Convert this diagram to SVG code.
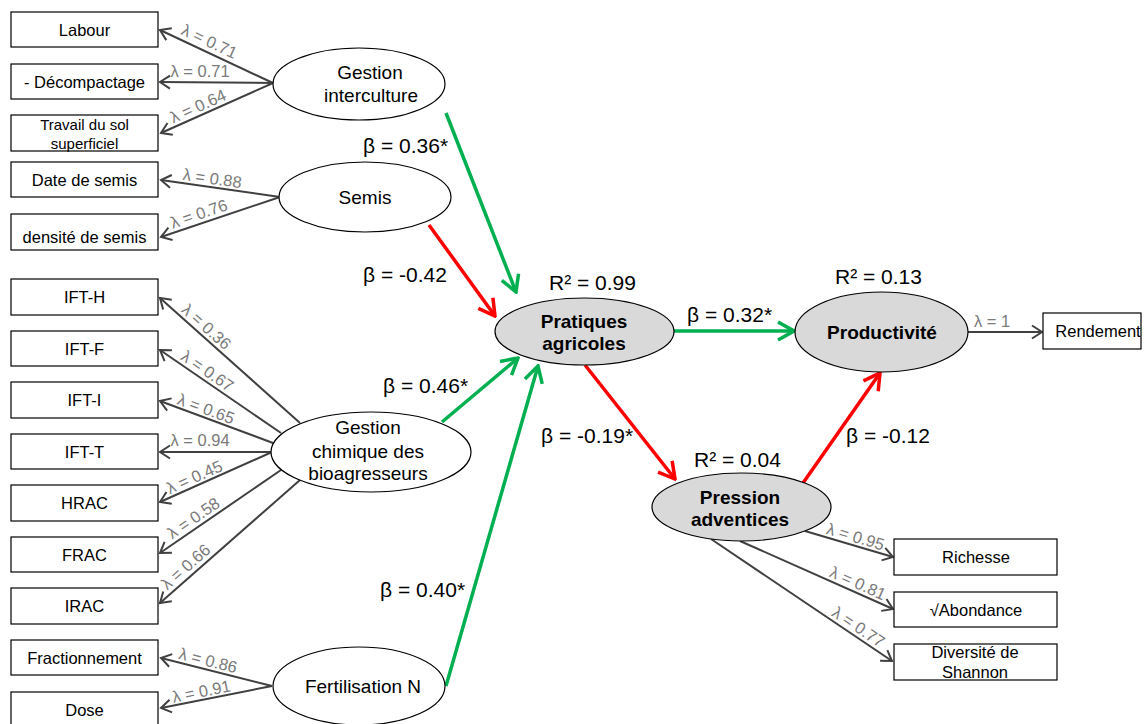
<svg xmlns="http://www.w3.org/2000/svg" width="1144" height="724" viewBox="0 0 1144 724">
<style>
.box{fill:#fff;stroke:#000;stroke-width:1.2}
.lat{fill:#fff;stroke:#000;stroke-width:1.2}
.dep{fill:#d9d9d9;stroke:#000;stroke-width:1.2}
.bt{font-family:"Liberation Sans",Arial,sans-serif;font-size:16.5px;fill:#000;text-anchor:middle}
.st{font-family:"Liberation Sans",Arial,sans-serif;font-size:15px;fill:#000;text-anchor:middle}
.et{font-family:"Liberation Sans",Arial,sans-serif;font-size:19px;fill:#000;text-anchor:middle}
.eb{font-family:"Liberation Sans",Arial,sans-serif;font-size:19px;font-weight:bold;fill:#000;text-anchor:middle}
.ld{stroke:#404040;stroke-width:2;fill:none;marker-end:url(#ga)}
.pg{stroke:#00b050;stroke-width:3.5;fill:none;marker-end:url(#gr)}
.pr{stroke:#ff0000;stroke-width:3.5;fill:none;marker-end:url(#rd)}
.lam{font-family:"Liberation Sans",Arial,sans-serif;font-size:16.5px;fill:#7a7a7a;text-anchor:middle}
.beta{font-family:"Liberation Sans",Arial,sans-serif;font-size:21px;fill:#000}
</style>
<defs>
<marker id="ga" markerUnits="userSpaceOnUse" viewBox="-13 -9 15 18" refX="0" refY="0" markerWidth="15" markerHeight="18" orient="auto"><path d="M-10,-6.5 L0,0 L-10,6.5" fill="none" stroke="#404040" stroke-width="2"/></marker>
<marker id="gr" markerUnits="userSpaceOnUse" viewBox="-20 -12 22 24" refX="0" refY="0" markerWidth="22" markerHeight="24" orient="auto"><path d="M-16,-9 L0,0 L-16,9" fill="none" stroke="#00b050" stroke-width="3.5"/></marker>
<marker id="rd" markerUnits="userSpaceOnUse" viewBox="-20 -12 22 24" refX="0" refY="0" markerWidth="22" markerHeight="24" orient="auto"><path d="M-16,-9 L0,0 L-16,9" fill="none" stroke="#ff0000" stroke-width="3.5"/></marker>
</defs>
<rect width="1144" height="724" fill="#fff"/>
<g id="connectors">
<line class="ld" x1="273" y1="83" x2="160" y2="30"/>
<line class="ld" x1="273" y1="83" x2="160" y2="82"/>
<line class="ld" x1="273" y1="83" x2="161" y2="133"/>
<line class="ld" x1="280" y1="197" x2="161" y2="180"/>
<line class="ld" x1="280" y1="197" x2="161" y2="237"/>
<line class="ld" x1="300" y1="423" x2="160" y2="298"/>
<line class="ld" x1="281" y1="433" x2="160" y2="350"/>
<line class="ld" x1="273" y1="443" x2="160" y2="401"/>
<line class="ld" x1="272" y1="452" x2="160" y2="452"/>
<line class="ld" x1="272" y1="452" x2="160" y2="502"/>
<line class="ld" x1="281" y1="470" x2="160" y2="553"/>
<line class="ld" x1="300" y1="480" x2="160" y2="603"/>
<line class="ld" x1="272" y1="686" x2="161" y2="658"/>
<line class="ld" x1="272" y1="686" x2="161" y2="708"/>
<line class="ld" x1="968" y1="332" x2="1042" y2="332"/>
<line class="ld" x1="805" y1="531" x2="893" y2="557"/>
<line class="ld" x1="740" y1="541" x2="893" y2="609"/>
<line class="ld" x1="711" y1="539" x2="892" y2="661"/>
<line class="pg" x1="446" y1="113" x2="516" y2="292"/>
<line class="pr" x1="429" y1="225" x2="495" y2="316"/>
<line class="pg" x1="442" y1="422" x2="518" y2="358"/>
<line class="pg" x1="446" y1="686" x2="538" y2="366"/>
<line class="pg" x1="674" y1="331" x2="794" y2="331"/>
<line class="pr" x1="585" y1="365" x2="675" y2="479"/>
<line class="pr" x1="803" y1="483" x2="880" y2="373"/>
<g class="lam">
<text transform="translate(205,51) rotate(25.1)" y="-5">λ = 0.71</text>
<text x="200" y="77">λ = 0.71</text>
<text transform="translate(202,115) rotate(-24.1)" y="-4">λ = 0.64</text>
<text transform="translate(211,187) rotate(8.1)" y="-3">λ = 0.88</text>
<text transform="translate(202,223) rotate(-18.6)" y="-4">λ = 0.76</text>
<text transform="translate(200,334) rotate(41.8)" y="-4">λ = 0.36</text>
<text transform="translate(202,379) rotate(34.4)" y="-4">λ = 0.67</text>
<text transform="translate(203,417) rotate(20.4)" y="-3">λ = 0.65</text>
<text x="200" y="446">λ = 0.94</text>
<text transform="translate(198,485) rotate(-24.1)" y="-3">λ = 0.45</text>
<text transform="translate(199,526) rotate(-34.4)" y="-4">λ = 0.58</text>
<text transform="translate(192,574) rotate(-41.3)" y="-4">λ = 0.66</text>
<text transform="translate(206,669) rotate(14.2)" y="-3">λ = 0.86</text>
<text transform="translate(203,700) rotate(-11.2)" y="-3">λ = 0.91</text>
<text x="992" y="327">λ = 1</text>
<text transform="translate(853,545) rotate(16.5)" y="-3">λ = 0.95</text>
<text transform="translate(854,592) rotate(24)" y="-4">λ = 0.81</text>
<text transform="translate(853,635) rotate(34)" y="-4">λ = 0.77</text>
</g>
<g class="beta">
<text x="363" y="153">β = 0.36*</text>
<text x="363" y="282">β = -0.42</text>
<text x="383" y="393">β = 0.46*</text>
<text x="380" y="597">β = 0.40*</text>
<text x="687" y="322">β = 0.32*</text>
<text x="541" y="443">β = -0.19*</text>
<text x="846" y="443">β = -0.12</text>
<text x="549" y="290">R² = 0.99</text>
<text x="835" y="284">R² = 0.13</text>
<text x="694" y="467">R² = 0.04</text>
</g>
</g>
<g id="n-labour"><rect class="box" x="11" y="12" width="147" height="35"/><text class="bt" x="84.5" y="35.5">Labour</text></g>
<g id="n-decompactage"><rect class="box" x="11" y="64" width="147" height="35"/><text class="bt" x="84.5" y="87.5">- Décompactage</text></g>
<g id="n-travail"><rect class="box" x="11" y="115" width="147" height="36"/><text class="st" x="84.5" y="130">Travail du sol</text><text class="st" x="84.5" y="149">superficiel</text></g>
<g id="n-date"><rect class="box" x="11" y="162" width="147" height="35"/><text class="bt" x="84.5" y="185.5">Date de semis</text></g>
<g id="n-densite"><rect class="box" x="11" y="214" width="147" height="36"/><text class="bt" x="84.5" y="243">densité de semis</text></g>
<g id="n-ifth"><rect class="box" x="11" y="279" width="147" height="36"/><text class="bt" x="84.5" y="303">IFT-H</text></g>
<g id="n-iftf"><rect class="box" x="11" y="331" width="147" height="35"/><text class="bt" x="84.5" y="354.5">IFT-F</text></g>
<g id="n-ifti"><rect class="box" x="11" y="382" width="147" height="36"/><text class="bt" x="84.5" y="406">IFT-I</text></g>
<g id="n-iftt"><rect class="box" x="11" y="434" width="147" height="35"/><text class="bt" x="84.5" y="457.5">IFT-T</text></g>
<g id="n-hrac"><rect class="box" x="11" y="485" width="147" height="36"/><text class="bt" x="84.5" y="509">HRAC</text></g>
<g id="n-frac"><rect class="box" x="11" y="537" width="147" height="35"/><text class="bt" x="84.5" y="560.5">FRAC</text></g>
<g id="n-irac"><rect class="box" x="11" y="588" width="147" height="36"/><text class="bt" x="84.5" y="612">IRAC</text></g>
<g id="n-fraction"><rect class="box" x="11" y="640" width="147" height="35"/><text class="bt" x="84.5" y="663.5">Fractionnement</text></g>
<g id="n-dose"><rect class="box" x="11" y="692" width="147" height="35"/><text class="bt" x="84.5" y="716">Dose</text></g>
<g id="n-interculture"><ellipse class="lat" cx="359" cy="84" rx="86" ry="36"/><text class="et" x="370" y="79">Gestion</text><text class="et" x="371" y="102">interculture</text></g>
<g id="n-semis"><ellipse class="lat" cx="365" cy="197" rx="86" ry="35"/><text class="et" x="365" y="204">Semis</text></g>
<g id="n-chimique"><ellipse class="lat" cx="371" cy="452" rx="100" ry="40"/><text class="et" x="368" y="434">Gestion</text><text class="et" x="368" y="458">chimique des</text><text class="et" x="368" y="480">bioagresseurs</text></g>
<g id="n-fertilisation"><ellipse class="lat" cx="359" cy="686" rx="86" ry="39"/><text class="et" x="363" y="693">Fertilisation N</text></g>
<g id="n-pratiques"><ellipse class="dep" cx="584.5" cy="331.5" rx="89.5" ry="33.5"/><text class="eb" x="584" y="328">Pratiques</text><text class="eb" x="584" y="350">agricoles</text></g>
<g id="n-productivite"><ellipse class="dep" cx="881.5" cy="332" rx="86.5" ry="40"/><text class="eb" x="882" y="339">Productivité</text></g>
<g id="n-pression"><ellipse class="dep" cx="741.5" cy="507" rx="89.5" ry="34"/><text class="eb" x="740" y="504">Pression</text><text class="eb" x="740" y="526">adventices</text></g>
<g id="n-rendement"><rect class="box" x="1043" y="313" width="98" height="36"/><text class="bt" x="1098" y="337">Rendement</text></g>
<g id="n-richesse"><rect class="box" x="894" y="539" width="163" height="36"/><text class="bt" x="976" y="563">Richesse</text></g>
<g id="n-abondance"><rect class="box" x="894" y="592" width="163" height="35"/><text class="bt" x="976" y="615.5">√Abondance</text></g>
<g id="n-shannon"><rect class="box" x="894" y="644" width="163" height="36"/><text class="bt" x="975" y="658">Diversité de</text><text class="bt" x="975" y="678">Shannon</text></g>
</svg>
